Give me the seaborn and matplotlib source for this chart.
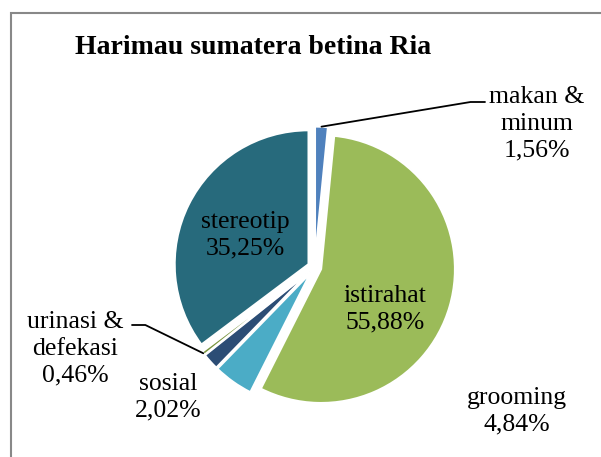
import numpy as np
import matplotlib
matplotlib.use("Agg")
import matplotlib.pyplot as plt
import seaborn as sns
from matplotlib.patches import Rectangle

categories = ["makan &\nminum", "istirahat", "grooming", "sosial", "urinasi &\ndefekasi", "stereotip"]
values = [1.56, 55.88, 4.84, 2.02, 0.46, 35.25]
colors = ["#4F81BD", "#9BBB59", "#4BACC6", "#2C4D75", "#77933C", "#276A7C"]
title = "Harimau sumatera betina Ria"

# label block centres in pixel coords (x from left, y from top)
label_pos = [(537, 124), (385, 309), (517, 411), (168, 397), (75, 349), (245, 235)]
# leader lines: (label index, end of line at text side px, angle of diagonal)
leaders = {0: ((485, 102), 9.4), 4: ((132, 325), -26.0)}

sns.set_theme(style="white")
plt.rcParams["font.family"] = ["Liberation Serif", "DejaVu Serif"]

W, H = 601, 457
fig = plt.figure(figsize=(W / 100, H / 100), dpi=100)
ax = fig.add_axes([0, 0, 1, 1])

cx, cy, r = 314.6, 267.2, 134.0
wedges, _ = ax.pie(values, colors=colors, startangle=90, counterclock=False,
                   explode=[0.05] * len(values), radius=1.0,
                   wedgeprops=dict(edgecolor="white", linewidth=1.6))
ax.set_aspect("auto")
ax.set_xlim(-cx / r, (W - cx) / r)
ax.set_ylim(-(H - cy) / r, cy / r)
ax.axis("off")

def px2frac(x, y):
    return x / W, 1 - y / H

for i, (cat, v) in enumerate(zip(categories, values)):
    lab = f"{cat}\n{v:.2f}".replace(".", ",") + "%"
    fx, fy = px2frac(*label_pos[i])
    ax.text(fx, fy, lab, transform=ax.transAxes, ha="center", va="center",
            fontsize=18.5, color="black", linespacing=1.27)

for i, (pt, ang) in leaders.items():
    w = wedges[i]
    mid = np.deg2rad((w.theta1 + w.theta2) / 2)
    xy = (w.center[0] + w.r * np.cos(mid), w.center[1] + w.r * np.sin(mid))
    ax.annotate("", xy=xy, xycoords="data", xytext=px2frac(*pt), textcoords="axes fraction",
                arrowprops=dict(arrowstyle="-", color="black", lw=1.3, shrinkA=0, shrinkB=0,
                                connectionstyle=f"angle,angleA=0,angleB={ang},rad=0"))

fig.text(253 / W, 1 - 47 / H, title, ha="center", va="center", fontsize=20,
         fontweight="bold", color="black")

fig.patches.append(Rectangle((11 / W, -0.1), 1.2, 1 - 13 / H + 0.1, transform=fig.transFigure,
                             fill=False, edgecolor="#888888", linewidth=1.5))

fig.savefig("out.png", dpi=100)
